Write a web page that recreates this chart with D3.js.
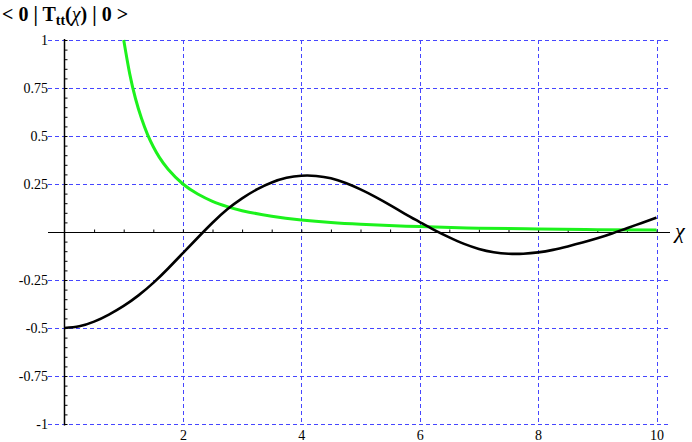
<!DOCTYPE html>
<html>
<head>
<meta charset="utf-8">
<script src="https://cdn.jsdelivr.net/npm/d3@7"></script>
<style>
  body { margin: 0; background: #fff; }
  svg { display: block; }
  text { font-family: "Liberation Serif", "DejaVu Serif", serif; }
</style>
</head>
<body>
<svg id="chart" width="692" height="442"></svg>
<script>
// values
var blackX = [0, 0.25, 0.5, 0.75, 1, 1.25, 1.5, 1.75, 2, 2.25, 2.5, 2.75, 3, 3.25, 3.5, 3.75, 4, 4.25, 4.5, 4.75, 5, 5.25, 5.5, 5.75, 6, 6.25, 6.5, 6.75, 7, 7.25, 7.5, 7.75, 8, 8.25, 8.5, 8.75, 9, 9.25, 9.5, 9.75, 10];
var blackY = [-0.5, -0.491, -0.467, -0.43, -0.385, -0.33, -0.265, -0.19, -0.11, -0.03, 0.048, 0.118, 0.175, 0.222, 0.258, 0.282, 0.293, 0.292, 0.28, 0.255, 0.222, 0.183, 0.14, 0.095, 0.052, 0.01, -0.028, -0.062, -0.088, -0.105, -0.113, -0.113, -0.106, -0.093, -0.075, -0.055, -0.033, -0.008, 0.02, 0.047, 0.075];

var greenX = [1, 1.1, 1.2, 1.3, 1.4, 1.5, 1.6, 1.75, 2, 2.25, 2.5, 2.75, 3, 3.5, 4, 4.5, 5, 6, 7, 8, 9, 10];
var greenY = [1, 0.826, 0.694, 0.592, 0.51, 0.444, 0.39, 0.327, 0.25, 0.198, 0.16, 0.132, 0.111, 0.082, 0.0625, 0.049, 0.04, 0.028, 0.02, 0.016, 0.012, 0.01];

var xGrid = [2, 4, 6, 8, 10];
var yGrid = [-1, -0.75, -0.5, -0.25, 0.25, 0.5, 0.75, 1];
var yLabels = [-1, -0.75, -0.5, -0.25, 0.25, 0.5, 0.75, 1];
var xLabels = [2, 4, 6, 8, 10];

var svg = d3.select("#chart");

var x = d3.scaleLinear().domain([0, 10]).range([64.5, 656.5]);
var y = d3.scaleLinear().domain([-1, 1]).range([424, 40]);

var left = 48, right = 670;
var px = v => Math.round(v) + 0.5;

// grid lines
var grid = svg.append("g")
  .attr("stroke", "#4646ff")
  .attr("stroke-width", 1)
  .attr("stroke-dasharray", "4,3");

grid.selectAll("line.h")
  .data(yGrid)
  .enter().append("line")
  .attr("class", "h")
  .attr("x1", left).attr("x2", right)
  .attr("y1", d => px(y(d))).attr("y2", d => px(y(d)));

grid.selectAll("line.v")
  .data(xGrid)
  .enter().append("line")
  .attr("class", "v")
  .attr("x1", d => px(x(d))).attr("x2", d => px(x(d)))
  .attr("y1", y(1)).attr("y2", y(-1));

// minor ticks
var yTicks = d3.range(-20, 21).filter(d => d != 0).map(d => d * 0.05);
var xTicks = d3.range(1, 21).map(d => d * 0.5);

svg.append("g")
  .attr("transform", "translate(" + x(0) + ",0)")
  .call(d3.axisRight(y).tickValues(yTicks).tickSize(3).tickFormat(""))
  .call(g => g.select(".domain").remove())
  .selectAll("line").attr("stroke", "#000");

svg.append("g")
  .attr("transform", "translate(0," + px(y(0)) + ")")
  .call(d3.axisTop(x).tickValues(xTicks).tickSize(3).tickFormat(""))
  .call(g => g.select(".domain").remove())
  .selectAll("line").attr("stroke", "#000");

// axes lines
svg.append("line")
  .attr("x1", left).attr("x2", right)
  .attr("y1", px(y(0))).attr("y2", px(y(0)))
  .attr("stroke", "#000").attr("stroke-width", 1);

svg.append("line")
  .attr("x1", x(0)).attr("x2", x(0))
  .attr("y1", y(1) - 1).attr("y2", y(-1) + 1.5)
  .attr("stroke", "#000").attr("stroke-width", 1.5);

// tick labels
var yAx = svg.append("g")
  .attr("transform", "translate(" + (left + 1) + ",0)")
  .call(d3.axisLeft(y).tickValues(yLabels).tickSize(0).tickPadding(1).tickFormat(d => String(d)));
yAx.select(".domain").remove();
yAx.selectAll("text")
  .attr("font-family", "Liberation Serif")
  .attr("font-size", 14)
  .attr("fill", "#000");

var xAx = svg.append("g")
  .attr("transform", "translate(0," + y(-1) + ")")
  .call(d3.axisBottom(x).tickValues(xLabels).tickSize(0).tickPadding(6).tickFormat(d => String(d)));
xAx.select(".domain").remove();
xAx.selectAll("text")
  .attr("font-family", "Liberation Serif")
  .attr("font-size", 14)
  .attr("fill", "#000");

// curves
var line = d3.line()
  .x(d => x(d[0]))
  .y(d => y(d[1]))
  .curve(d3.curveNatural);

svg.append("path")
  .datum(greenX.map((d, i) => [d, greenY[i]]))
  .attr("d", line)
  .attr("fill", "none")
  .attr("stroke", "#1cf21c")
  .attr("stroke-width", 3);

svg.append("path")
  .datum(blackX.map((d, i) => [d, blackY[i]]))
  .attr("d", line)
  .attr("fill", "none")
  .attr("stroke", "#000")
  .attr("stroke-width", 2.6);

// title
var title = svg.append("text")
  .attr("x", 2).attr("y", 21)
  .attr("font-size", 20)
  .attr("font-weight", "bold");
title.append("tspan").text("< 0 | T");
title.append("tspan").attr("font-size", 14).attr("dy", 4).text("tt");
title.append("tspan").attr("dy", -4).text("(");
title.append("tspan").attr("font-style", "italic").attr("font-weight", "normal").text("χ");
title.append("tspan").text(") | 0 >");

// axis label
svg.append("text")
  .attr("x", 675).attr("y", px(y(0)) + 5)
  .attr("font-size", 22)
  .attr("font-style", "italic")
  .text("χ");
</script>
</body>
</html>
